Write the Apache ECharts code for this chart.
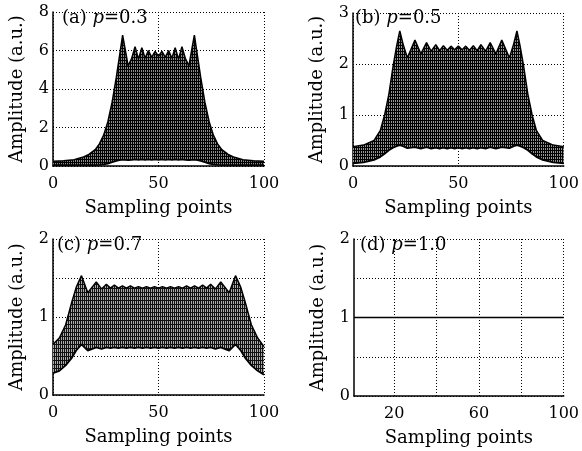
<!DOCTYPE html>
<html><head><meta charset="utf-8">
<script src="https://cdn.jsdelivr.net/npm/echarts@6/dist/echarts.min.js"></script>
<style>html,body{margin:0;padding:0;background:#fff}#c{width:582px;height:451px}</style>
</head><body><div id="c"></div>
<script>
// ---- data (envelopes of the mesh families) ----
const xA = [0,5,10,14,17,20,22,24,26,28,30,31.5,33,34.3,35.6,37.3,38.9,40.5,42.1,43.65,45.2,46.8,48.4,50,51.6,53.2,54.8,56.35,57.9,59.5,61.1,62.7,64.4,65.7,67,68.5,70,72,74,76,78,80,83,86,90,95,100];
const upperA = [0.25,0.27,0.33,0.45,0.6,0.85,1.15,1.6,2.3,3.3,4.6,5.7,6.8,6.0,5.2,5.6,6.2,5.55,6.15,5.6,6.0,5.65,5.95,5.7,5.95,5.65,6.0,5.6,6.15,5.55,6.2,5.6,5.2,6.0,6.8,5.7,4.6,3.3,2.3,1.6,1.15,0.85,0.6,0.45,0.33,0.27,0.25];
const lowerA = [0.05,0.05,0.05,0.05,0.05,0.05,0.06,0.08,0.12,0.2,0.27,0.3,0.33,0.32,0.3,0.32,0.34,0.32,0.34,0.32,0.34,0.32,0.34,0.32,0.34,0.32,0.34,0.32,0.34,0.32,0.34,0.32,0.3,0.32,0.33,0.3,0.27,0.2,0.12,0.08,0.06,0.05,0.05,0.05,0.05,0.05,0.05];

const xB = [0,5,10,13,15,17,19,20.7,22.2,23.7,25.8,29.4,32.2,34.9,37.1,39.3,41.1,42.9,44.7,46.5,48.2,50,51.8,53.5,55.3,57.1,58.9,60.7,62.9,65.1,67.8,70.6,74.2,76.3,77.8,79.3,81,83,85,87,90,95,100];
const upperB = [0.38,0.41,0.5,0.7,1.0,1.4,1.95,2.35,2.65,2.4,2.12,2.47,2.2,2.42,2.25,2.38,2.26,2.36,2.27,2.35,2.28,2.35,2.28,2.35,2.27,2.36,2.26,2.38,2.25,2.42,2.2,2.47,2.12,2.4,2.65,2.35,1.95,1.4,1.0,0.7,0.5,0.41,0.38];
const lowerB = [0.05,0.07,0.12,0.18,0.24,0.31,0.36,0.39,0.41,0.39,0.35,0.37,0.34,0.37,0.34,0.36,0.34,0.36,0.34,0.36,0.34,0.36,0.34,0.36,0.34,0.36,0.34,0.36,0.34,0.37,0.34,0.37,0.35,0.39,0.41,0.39,0.36,0.31,0.24,0.18,0.12,0.07,0.05];

const xC = [0,3,6,9,11,13.5,16.5,20.5,23,25.3,27.2,29.1,31,32.9,34.8,36.7,38.6,40.5,42.4,44.3,46.2,48.1,50,51.9,53.8,55.7,57.6,59.5,61.4,63.3,65.2,67.1,69,70.9,72.8,74.7,77,79.5,83.5,86.5,89,91,94,97,100];
const upperC = [0.65,0.73,0.9,1.2,1.38,1.53,1.31,1.45,1.36,1.42,1.37,1.41,1.37,1.4,1.37,1.4,1.37,1.39,1.37,1.39,1.37,1.39,1.37,1.39,1.37,1.39,1.37,1.39,1.37,1.4,1.37,1.4,1.37,1.41,1.37,1.42,1.36,1.45,1.31,1.53,1.38,1.2,0.9,0.73,0.62];
const lowerC = [0.28,0.31,0.38,0.48,0.57,0.65,0.57,0.61,0.59,0.61,0.6,0.61,0.6,0.61,0.6,0.61,0.6,0.61,0.6,0.61,0.6,0.61,0.6,0.61,0.6,0.61,0.6,0.61,0.6,0.61,0.6,0.61,0.6,0.61,0.6,0.61,0.59,0.61,0.57,0.65,0.57,0.48,0.38,0.31,0.26];

const xD = [1, 100];
const yD = [1, 1];

const panelLabels = ['(a) {i|p}=0.3', '(b) {i|p}=0.5', '(c) {i|p}=0.7', '(d) {i|p}=1.0'];
const xTickLabelsD = [20, 60, 100];
const xGridD = [20, 40, 60, 80, 100];
const xName = 'Sampling points';
const yName = 'Amplitude (a.u.)';

// ---- layout / style ----
const FONT = 'DejaVu Serif';
const grids = [
  {left: 53, top: 12, width: 211, height: 154},
  {left: 353, top: 13, width: 211, height: 153},
  {left: 53, top: 239, width: 211, height: 156},
  {left: 354, top: 239, width: 210, height: 157}
];
const labelPos = [[62, 9], [355, 9], [57, 236], [360, 236]];

function makePattern(w, h, bg, fg) {
  const c = document.createElement('canvas');
  c.width = w; c.height = h;
  const g = c.getContext('2d');
  g.fillStyle = bg; g.fillRect(0, 0, w, h);
  g.fillStyle = fg;
  g.fillRect(0, 0, 1, h);
  g.fillRect(0, 0, w, 1);
  return c;
}
const patA = makePattern(2, 3, '#8c8c8c', '#000');
const patB = makePattern(2, 3, '#959595', '#000');
const patC = makePattern(2, 4, '#acacac', '#111');

const dotted = {show: true, lineStyle: {color: '#000', width: 1, type: [1, 2]}};
const axisLine = {show: true, onZero: false, lineStyle: {color: '#000', width: 1.5}};
const tickFont = {fontFamily: FONT, fontSize: 16, color: '#000'};
const nameFont = {fontFamily: FONT, fontSize: 18, color: '#000'};

function xAxis(i, extra) {
  return Object.assign({
    type: 'value', gridIndex: i, min: 0, max: 100, interval: 50,
    axisLine: axisLine, axisTick: {show: false}, splitLine: dotted,
    axisLabel: Object.assign({margin: 10}, tickFont),
    name: xName, nameLocation: 'middle', nameGap: 33, nameTextStyle: nameFont
  }, extra || {});
}
function yAxis(i, max, interval, fmt) {
  return {
    type: 'value', gridIndex: i, min: 0, max: max, interval: interval,
    axisLine: axisLine, axisTick: {show: false}, splitLine: dotted,
    axisLabel: Object.assign({margin: 4, formatter: fmt}, tickFont),
    name: yName, nameLocation: 'middle', nameGap: 27, nameTextStyle: nameFont
  };
}
const intOnly = v => (Math.abs(v - Math.round(v)) < 1e-9 ? String(Math.round(v)) : '');

// mesh band: polygon between lower and upper envelopes, drawn through the axis scales
function band(gi, xs, up, lo, pat) {
  return [
    {type: 'custom', xAxisIndex: gi, yAxisIndex: gi, z: 2, silent: true,
     data: [[xs[0], up[0]]],
     renderItem: function (params, api) {
       const pts = [];
       for (let i = 0; i < xs.length; i++) pts.push(api.coord([xs[i], up[i]]));
       for (let i = xs.length - 1; i >= 0; i--) pts.push(api.coord([xs[i], lo[i]]));
       return {type: 'polygon', shape: {points: pts},
               style: {fill: {image: pat, repeat: 'repeat'}, stroke: null}};
     }},
    {type: 'line', xAxisIndex: gi, yAxisIndex: gi, symbol: 'none', z: 3,
     data: xs.map((x, i) => [x, lo[i]]), lineStyle: {color: '#000', width: 1.8}},
    {type: 'line', xAxisIndex: gi, yAxisIndex: gi, symbol: 'none', z: 3,
     data: xs.map((x, i) => [x, up[i]]), lineStyle: {color: '#000', width: 1.5}}
  ];
}

const option = {
  animation: false,
  backgroundColor: '#fff',
  title: panelLabels.map((t, i) => ({
    text: t, left: labelPos[i][0], top: labelPos[i][1], padding: 0, z: 10,
    textStyle: {fontFamily: FONT, fontSize: 18, fontWeight: 'normal', color: '#000',
      rich: {i: {fontFamily: FONT, fontSize: 18, fontStyle: 'italic', color: '#000'}}}
  })),
  grid: grids,
  xAxis: [
    xAxis(0), xAxis(1), xAxis(2),
    xAxis(3, {min: 1, max: 100, interval: null,
      axisTick: {show: false, customValues: xGridD},
      axisLabel: Object.assign({margin: 10, customValues: xTickLabelsD}, tickFont)})
  ],
  yAxis: [
    yAxis(0, 8, 2), yAxis(1, 3, 1), yAxis(2, 2, 0.5, intOnly), yAxis(3, 2, 0.5, intOnly)
  ],
  series: [].concat(
    band(0, xA, upperA, lowerA, patA),
    band(1, xB, upperB, lowerB, patB),
    band(2, xC, upperC, lowerC, patC),
    [{type: 'line', xAxisIndex: 3, yAxisIndex: 3, symbol: 'none',
      data: xD.map((x, i) => [x, yD[i]]), lineStyle: {color: '#000', width: 1.5}}]
  )
};
const chart = echarts.init(document.getElementById('c'), null, {renderer: 'canvas'});
chart.setOption(option);
</script></body></html>
